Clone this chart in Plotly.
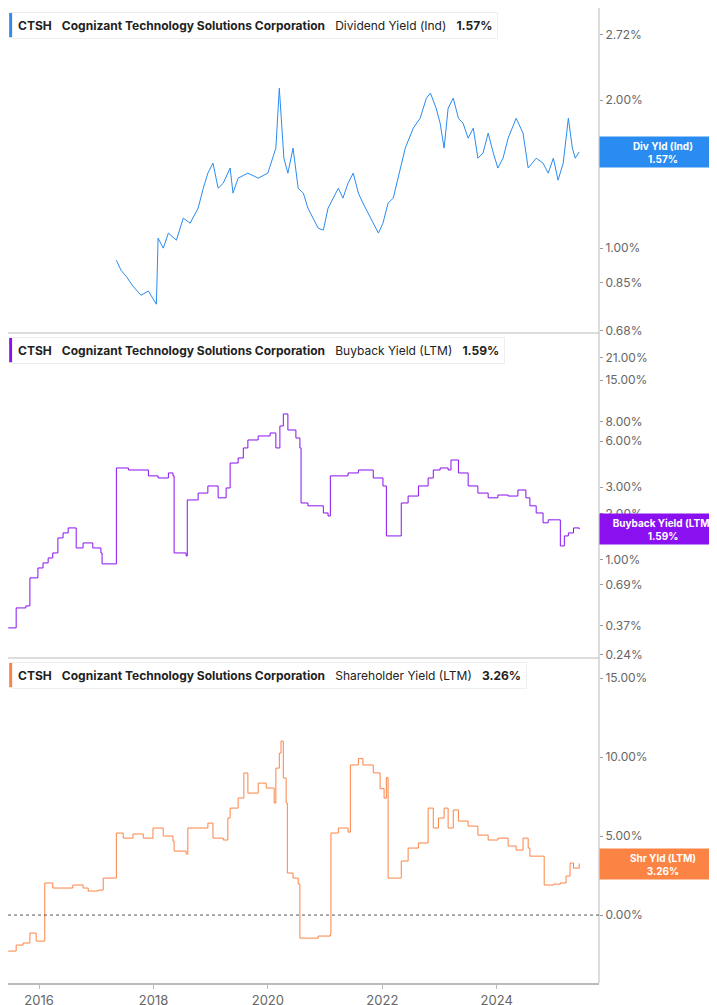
import numpy as np
import pandas as pd
import plotly.graph_objects as go

# decimal-year dates and values
div_years = [2017.35, 2017.43, 2017.52, 2017.64, 2017.78, 2017.91, 2018.05, 2018.08, 2018.17, 2018.26,
             2018.40, 2018.52, 2018.64, 2018.78, 2018.87, 2018.95, 2019.04, 2019.13, 2019.22, 2019.34,
             2019.39, 2019.48, 2019.65, 2019.83, 2020.00, 2020.14, 2020.20, 2020.23, 2020.28, 2020.35,
             2020.44, 2020.53, 2020.62, 2020.70, 2020.79, 2020.88, 2020.97, 2021.05, 2021.14, 2021.23,
             2021.31, 2021.40, 2021.49, 2021.58, 2021.66, 2021.79, 2021.93, 2022.01, 2022.10, 2022.19,
             2022.31, 2022.40, 2022.54, 2022.66, 2022.77, 2022.84, 2022.94, 2023.01, 2023.08, 2023.15,
             2023.24, 2023.33, 2023.41, 2023.50, 2023.59, 2023.67, 2023.76, 2023.85, 2023.94, 2024.02,
             2024.11, 2024.20, 2024.34, 2024.46, 2024.55, 2024.69, 2024.81, 2024.90, 2024.99, 2025.07,
             2025.16, 2025.25, 2025.32, 2025.37, 2025.44]
div_yield = [0.945, 0.902, 0.877, 0.837, 0.802, 0.818, 0.769, 1.048, 1.0, 1.073,
             1.038, 1.151, 1.124, 1.206, 1.324, 1.421, 1.489, 1.324, 1.356, 1.455,
             1.294, 1.388, 1.421, 1.388, 1.421, 1.598, 2.115, 1.838, 1.524, 1.421,
             1.598, 1.324, 1.294, 1.206, 1.151, 1.098, 1.088, 1.206, 1.264, 1.324,
             1.264, 1.356, 1.421, 1.294, 1.235, 1.151, 1.073, 1.124, 1.235, 1.264,
             1.455, 1.598, 1.754, 1.838, 2.019, 2.067, 1.926, 1.796, 1.598, 1.926,
             2.019, 1.838, 1.796, 1.674, 1.754, 1.524, 1.561, 1.714, 1.561, 1.455,
             1.524, 1.674, 1.838, 1.714, 1.455, 1.524, 1.489, 1.421, 1.524, 1.375,
             1.489, 1.838, 1.598, 1.524, 1.57]

bb_years = [2015.46, 2015.60, 2015.77, 2015.84, 2015.98, 2016.07, 2016.16, 2016.24, 2016.33, 2016.42,
            2016.51, 2016.65, 2016.77, 2016.94, 2017.08, 2017.10, 2017.33, 2017.35, 2017.56, 2017.91,
            2018.08, 2018.26, 2018.34, 2018.36, 2018.57, 2018.59, 2018.78, 2018.95, 2019.13, 2019.27,
            2019.34, 2019.48, 2019.57, 2019.65, 2019.83, 2020.04, 2020.14, 2020.21, 2020.27, 2020.35,
            2020.49, 2020.56, 2020.58, 2020.70, 2020.97, 2021.05, 2021.09, 2021.23, 2021.40, 2021.58,
            2021.84, 2022.01, 2022.07, 2022.28, 2022.33, 2022.45, 2022.63, 2022.80, 2022.89, 2023.01,
            2023.15, 2023.20, 2023.33, 2023.50, 2023.67, 2023.85, 2024.02, 2024.20, 2024.37, 2024.51,
            2024.58, 2024.69, 2024.81, 2024.90, 2025.04, 2025.11, 2025.18, 2025.25, 2025.34, 2025.44]
bb_yield = [0.359, 0.485, 0.5, 0.763, 0.886, 0.956, 1.03, 1.111, 1.393, 1.502,
            1.62, 1.198, 1.292, 1.198, 1.111, 0.942, 0.942, 4.0, 3.88, 3.55,
            3.44, 3.71, 3.55, 1.111, 1.062, 2.47, 2.74, 3.05, 2.55, 2.96,
            4.31, 4.65, 5.41, 6.1, 6.48, 6.78, 5.41, 7.53, 9.03, 7.09,
            6.29, 5.41, 2.36, 2.26, 2.03, 1.94, 3.55, 3.55, 3.71, 3.88,
            3.44, 3.05, 1.436, 1.436, 2.36, 2.62, 3.05, 3.44, 3.88, 4.0,
            3.88, 4.51, 3.71, 3.05, 2.74, 2.55, 2.66, 2.62, 2.87, 2.55,
            2.26, 2.03, 1.75, 1.83, 1.83, 1.235, 1.436, 1.502, 1.62, 1.59]

sh_years = [2015.46, 2015.60, 2015.72, 2015.84, 2015.95, 2016.09, 2016.10, 2016.24, 2016.42, 2016.59,
            2016.77, 2016.86, 2017.03, 2017.12, 2017.33, 2017.35, 2017.47, 2017.64, 2017.82, 2017.99,
            2018.17, 2018.34, 2018.36, 2018.57, 2018.60, 2018.78, 2018.95, 2019.04, 2019.22, 2019.30,
            2019.34, 2019.48, 2019.58, 2019.65, 2019.83, 2019.97, 2020.11, 2020.14, 2020.20, 2020.23,
            2020.27, 2020.32, 2020.34, 2020.44, 2020.53, 2020.56, 2020.88, 2021.09, 2021.10, 2021.23,
            2021.40, 2021.44, 2021.58, 2021.66, 2021.84, 2021.96, 2022.03, 2022.07, 2022.10, 2022.28,
            2022.33, 2022.45, 2022.63, 2022.80, 2022.89, 2022.98, 2023.08, 2023.15, 2023.24, 2023.33,
            2023.50, 2023.67, 2023.85, 2024.02, 2024.20, 2024.34, 2024.46, 2024.55, 2024.58, 2024.72,
            2024.81, 2024.83, 2024.99, 2025.11, 2025.21, 2025.28, 2025.34, 2025.44]
sh_yield = [-2.28, -1.9, -1.77, -1.14, -1.65, -1.65, 2.03, 1.71, 1.71, 1.9,
            1.71, 1.52, 1.58, 2.34, 2.34, 5.19, 4.87, 5.13, 4.87, 5.51,
            5.0, 4.68, 4.05, 3.86, 5.51, 5.51, 5.82, 4.87, 4.75, 6.14,
            6.77, 7.41, 8.99, 7.72, 8.35, 8.04, 7.09, 9.3, 10.25, 11.01,
            8.67, 7.09, 2.66, 2.34, 1.96, -1.46, -1.33, -1.2, 5.19, 5.51,
            5.25, 9.5, 9.9, 9.5, 9.0, 8.0, 7.4, 8.7, 2.34, 2.34,
            3.42, 4.24, 4.56, 6.77, 5.51, 6.14, 6.77, 5.51, 6.65, 5.95,
            5.63, 5.06, 4.75, 4.87, 4.37, 4.11, 4.87, 4.24, 3.73, 3.73,
            3.73, 1.9, 1.96, 2.03, 2.47, 3.29, 2.97, 3.26]

div_ticks = [0.68, 0.85, 1.0, 2.0, 2.72]
bb_ticks = [0.24, 0.37, 0.69, 1.0, 2.0, 3.0, 6.0, 8.0, 15.0, 21.0]
sh_ticks = [0, 5, 10, 15]
x_ticks = [2016, 2018, 2020, 2022, 2024]

BLUE = "#2a8cf0"
PURPLE = "#8a10f0"
ORANGE = "#fb8445"
FONT = "Inter, Roboto, sans-serif"


def to_dates(years):
    out = []
    for y in years:
        base = pd.Timestamp(int(y), 1, 1)
        out.append(base + pd.Timedelta(days=(y - int(y)) * 365.25))
    return out


fig = go.Figure()
fig.add_trace(go.Scatter(x=to_dates(div_years), y=div_yield, mode="lines",
                         line=dict(color=BLUE, width=1), yaxis="y"))
fig.add_trace(go.Scatter(x=to_dates(bb_years), y=bb_yield, mode="lines",
                         line=dict(color=PURPLE, width=1, shape="hv"), yaxis="y2"))
fig.add_trace(go.Scatter(x=to_dates(sh_years), y=sh_yield, mode="lines",
                         line=dict(color=ORANGE, width=1, shape="hv"), yaxis="y3"))

tick_font = dict(family=FONT, size=12, color="#666")
common_y = dict(side="right", showgrid=False, zeroline=False, showline=False,
                ticks="outside", ticklen=3, tickcolor="#999", tickfont=tick_font,
                fixedrange=True)

fig.update_layout(
    width=717, height=1005,
    margin=dict(l=0, r=126, t=0, b=30, autoexpand=False),
    paper_bgcolor="white", plot_bgcolor="white",
    showlegend=False,
    xaxis=dict(range=[pd.Timestamp("2015-06-17"), pd.Timestamp("2025-10-15")],
               tickvals=[pd.Timestamp(y, 1, 1) for y in x_ticks],
               ticktext=[str(y) for y in x_ticks],
               showgrid=False, zeroline=False, showline=True, linecolor="#bbb", linewidth=2,
               ticks="outside", ticklen=4, tickcolor="#bbb",
               tickfont=dict(family=FONT, size=13, color="#666"),
               anchor="y3", mirror=False),
    yaxis=dict(type="log", domain=[2 / 3, 1],
               range=[np.log10(0.672), np.log10(3.08)],
               tickvals=div_ticks, ticktext=[f"{v:.2f}%" for v in div_ticks], **common_y),
    yaxis2=dict(type="log", domain=[1 / 3, 2 / 3],
                range=[np.log10(0.228), np.log10(30.6)],
                tickvals=bb_ticks, ticktext=[f"{v:.2f}%" for v in bb_ticks], **common_y),
    yaxis3=dict(domain=[0, 1 / 3], range=[-4.3, 16.27],
                tickvals=sh_ticks, ticktext=[f"{v:.2f}%" for v in sh_ticks], **common_y),
)

# panel separators and right border
for yy in [1 / 3, 2 / 3]:
    fig.add_shape(type="line", xref="paper", yref="paper", x0=0, x1=1, y0=yy, y1=yy,
                  line=dict(color="#bbb", width=1))
fig.add_shape(type="line", xref="paper", yref="paper", x0=1, x1=1, y0=0, y1=1,
              line=dict(color="#bbb", width=1))
fig.add_shape(type="line", xref="paper", yref="y3", x0=0, x1=1, y0=0, y1=0,
              line=dict(color="#555", width=1, dash="dot"))

panels = [
    ("Dividend Yield (Ind)", div_yield[-1], BLUE, "y", 1.0, "Div Yld (Ind)", np.log10(div_yield[-1])),
    ("Buyback Yield (LTM)", bb_yield[-1], PURPLE, "y2", 2 / 3, "Buyback Yield (LTM)", np.log10(bb_yield[-1])),
    ("Shareholder Yield (LTM)", sh_yield[-1], ORANGE, "y3", 1 / 3, "Shr Yld (LTM)", sh_yield[-1]),
]
for metric, last, color, yref, top, short, ypos in panels:
    fig.add_annotation(
        xref="paper", yref="paper", x=0.006, y=top - 0.004, xanchor="left", yanchor="top",
        text=f"<b>CTSH</b>   <b>Cognizant Technology Solutions Corporation</b>   {metric}   <b>{last:.2f}%</b>",
        showarrow=False, align="left", font=dict(family=FONT, size=12, color="#222"),
        bgcolor="white", bordercolor="#eee", borderwidth=1, borderpad=5)
    fig.add_shape(type="rect", xref="paper", yref="paper", x0=0.002, x1=0.007,
                  y0=top - 0.030, y1=top - 0.005, fillcolor=color, line=dict(width=0))
    fig.add_annotation(
        xref="paper", yref=yref, x=1.0, y=ypos, xanchor="left", yanchor="middle",
        text=f"<b>{short}<br>{last:.2f}%</b>", showarrow=False, align="center",
        width=122, height=26, font=dict(family=FONT, size=10, color="white"),
        bgcolor=color, borderpad=2)

fig.write_html("out.html")
